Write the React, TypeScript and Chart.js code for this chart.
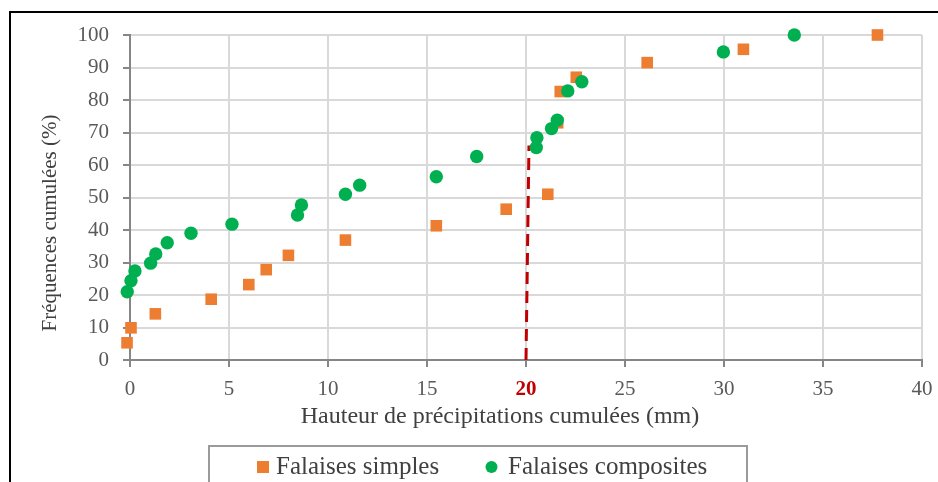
import React, { useEffect, useRef } from "react";
import { Chart, registerables } from "chart.js";

Chart.register(...registerables);

// ---- Data ----
const seriesNames = ["Falaises simples", "Falaises composites"];
const simplesX = [-0.15, 0.05, 1.28, 4.1, 6.0, 6.88, 8.0, 10.88, 15.47, 19.0, 21.1, 21.6, 21.73, 22.54, 26.12, 30.98, 37.75];
const simplesY = [5.3, 9.9, 14.2, 18.7, 23.2, 27.8, 32.2, 36.9, 41.3, 46.4, 51.0, 73.0, 82.6, 87.0, 91.5, 95.6, 100];
const compositesX = [-0.14, 0.05, 0.25, 1.04, 1.3, 1.88, 3.08, 5.15, 8.46, 8.66, 10.88, 11.6, 15.47, 17.51, 20.52, 20.55, 21.29, 21.58, 22.11, 22.82, 29.97, 33.55];
const compositesY = [21.0, 24.4, 27.4, 29.8, 32.6, 36.1, 39.0, 41.8, 44.6, 47.7, 51.0, 53.8, 56.4, 62.6, 65.4, 68.4, 71.2, 73.8, 82.8, 85.6, 94.8, 100];
const thresholdX = [20.0, 20.15];
const thresholdY = [0, 66];
const highlightTick = 20;
const xTicks = [0, 5, 10, 15, 20, 25, 30, 35, 40];
const yTicks = [0, 10, 20, 30, 40, 50, 60, 70, 80, 90, 100];
const xTitle = "Hauteur de précipitations cumulées (mm)";
const yTitle = "Fréquences cumulées (%)";

const SERIF = "'Liberation Serif', 'Times New Roman', serif";
const ORANGE = "#ed7d31";
const GREEN = "#00b050";
const RED = "#c00000";

const toPoints = (xs: number[], ys: number[]) => xs.map((x, i) => ({ x, y: ys[i] }));

const framePlugin = {
  id: "frame",
  beforeDraw(chart: any) {
    const ctx = chart.ctx;
    ctx.save();
    ctx.fillStyle = "#ffffff";
    ctx.fillRect(0, 0, chart.width, chart.height);
    ctx.restore();
  },
  afterDraw(chart: any) {
    const ctx = chart.ctx;
    ctx.save();
    // outer border of the chart object
    ctx.strokeStyle = "#000000";
    ctx.lineWidth = 2;
    ctx.beginPath();
    ctx.moveTo(10, chart.height + 5);
    ctx.lineTo(10, 12);
    ctx.lineTo(chart.width + 5, 12);
    ctx.stroke();

    // axis titles
    ctx.fillStyle = "#404040";
    ctx.textAlign = "center";
    ctx.textBaseline = "middle";
    ctx.font = `24px ${SERIF}`;
    ctx.fillText(xTitle, 500, 417);
    ctx.save();
    ctx.translate(50, 223);
    ctx.rotate(-Math.PI / 2);
    ctx.font = `21px ${SERIF}`;
    ctx.fillText(yTitle, 0, 0);
    ctx.restore();

    // legend
    ctx.strokeStyle = "#9a9a9a";
    ctx.lineWidth = 2;
    ctx.strokeRect(209, 446, 538, 60);
    const ds = chart.data.datasets;
    ctx.font = `25px ${SERIF}`;
    ctx.textAlign = "left";
    // item 1
    ctx.fillStyle = ds[0].backgroundColor;
    ctx.fillRect(257, 461, 12, 12);
    ctx.fillStyle = "#404040";
    ctx.fillText(ds[0].label, 276, 467);
    // item 2
    ctx.fillStyle = ds[1].backgroundColor;
    ctx.beginPath();
    ctx.arc(491.5, 467, 6, 0, Math.PI * 2);
    ctx.fill();
    ctx.fillStyle = "#404040";
    ctx.fillText(ds[1].label, 508, 467);
    ctx.restore();
  },
};

export default function App() {
  const canvasRef = useRef<HTMLCanvasElement | null>(null);

  useEffect(() => {
    if (!canvasRef.current) return;
    const chart = new Chart(canvasRef.current, {
      type: "scatter",
      data: {
        datasets: [
          {
            label: seriesNames[0],
            data: toPoints(simplesX, simplesY),
            backgroundColor: ORANGE,
            borderColor: ORANGE,
            borderWidth: 0,
            pointStyle: "rect",
            pointRadius: 8.2,
            pointHoverRadius: 8.2,
            clip: false,
            order: 1,
          } as any,
          {
            label: seriesNames[1],
            data: toPoints(compositesX, compositesY),
            backgroundColor: GREEN,
            borderColor: GREEN,
            borderWidth: 0,
            pointStyle: "circle",
            pointRadius: 6.7,
            pointHoverRadius: 6.7,
            clip: false,
            order: 0,
          } as any,
          {
            type: "line",
            label: "seuil",
            data: toPoints(thresholdX, thresholdY),
            borderColor: RED,
            backgroundColor: RED,
            borderWidth: 3,
            borderDash: [12, 7],
            pointRadius: 0,
            showLine: true,
            fill: false,
            clip: false,
            order: 2,
          } as any,
        ],
      },
      options: {
        responsive: false,
        animation: false,
        devicePixelRatio: 1,
        layout: { padding: { left: 0, top: 35, right: 16, bottom: 0 } },
        plugins: {
          legend: { display: false },
          tooltip: { enabled: false },
          title: { display: false },
        },
        scales: {
          x: {
            type: "linear",
            min: 0,
            max: 40,
            afterFit: (s: any) => {
              s.height = 122;
              s.paddingLeft = 0;
              s.paddingRight = 0;
            },
            afterBuildTicks: (s: any) => {
              s.ticks = xTicks.map((v) => ({ value: v }));
            },
            grid: {
              color: "#d9d9d9",
              lineWidth: 2,
              drawTicks: true,
              tickLength: 7,
              tickColor: "#868686",
              tickWidth: 2,
            },
            border: { display: true, color: "#868686", width: 2 },
            ticks: {
              padding: 10,
              color: (c: any) => (c.tick && c.tick.value === highlightTick ? RED : "#595959"),
              font: (c: any) => ({
                family: SERIF,
                size: 21,
                weight: c.tick && c.tick.value === highlightTick ? "bold" : "normal",
              }),
            },
          },
          y: {
            type: "linear",
            min: 0,
            max: 100,
            afterFit: (s: any) => {
              s.width = 130;
              s.paddingTop = 0;
              s.paddingBottom = 0;
            },
            afterBuildTicks: (s: any) => {
              s.ticks = yTicks.map((v) => ({ value: v }));
            },
            grid: {
              color: "#d9d9d9",
              lineWidth: 2,
              drawTicks: true,
              tickLength: 7,
              tickColor: "#868686",
              tickWidth: 2,
            },
            border: { display: true, color: "#868686", width: 2 },
            ticks: {
              padding: 14,
              color: "#595959",
              font: { family: SERIF, size: 21 },
            },
          },
        },
      },
      plugins: [framePlugin],
    } as any);
    return () => chart.destroy();
  }, []);

  return (
    <div style={{ position: "fixed", left: 0, top: 0, width: 938, height: 482, background: "#fff" }}>
      <canvas ref={canvasRef} width={938} height={482} style={{ display: "block" }} />
    </div>
  );
}
